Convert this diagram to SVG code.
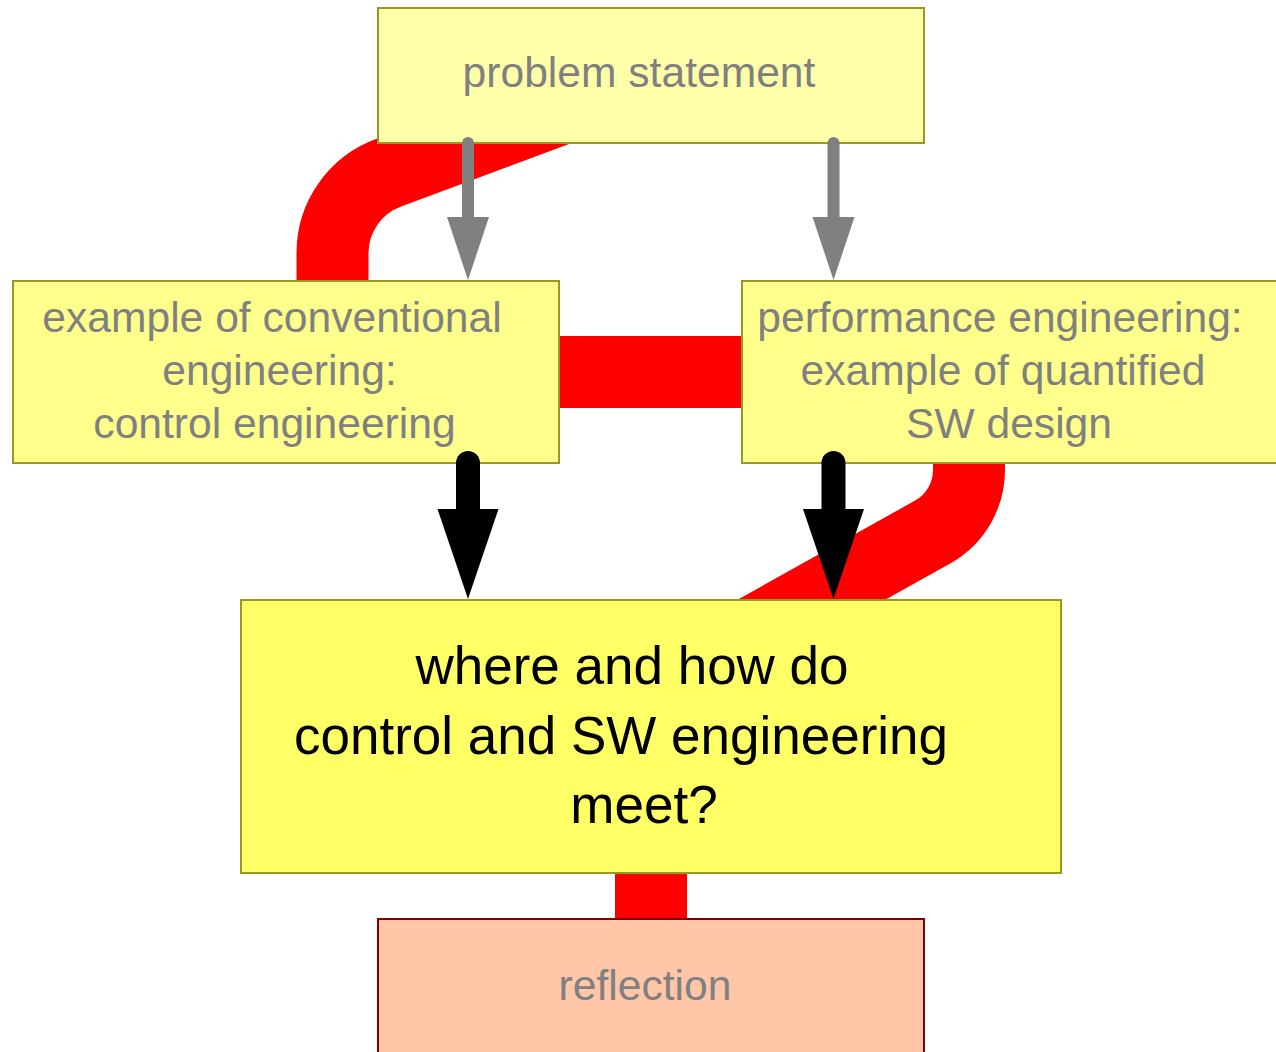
<svg xmlns="http://www.w3.org/2000/svg" width="1276" height="1052" viewBox="0 0 1276 1052">
<style>
.box{stroke:#999922;stroke-width:2}
.lt{fill:#ffffaa}
.md{fill:#ffff8c}
.hi{fill:#ffff66}
.refl{fill:#ffc6a8;stroke:#800000;stroke-width:2}
.red{fill:none;stroke:#ff0000;stroke-width:72}
.t{font-family:"Liberation Sans",Arial,sans-serif;font-size:42.6px;fill:#808080;text-anchor:middle}
.tb{font-family:"Liberation Sans",Arial,sans-serif;font-size:53px;fill:#000;text-anchor:middle}
.gs{stroke:#808080;stroke-width:12;stroke-linecap:round}
.bs{stroke:#000;stroke-width:24;stroke-linecap:round}
</style>
<rect width="1276" height="1052" fill="#fff"/>
<g id="connectors">
<path class="red" d="M 332.5 372 L 332.5 253 A 85.5 85.5 0 0 1 388.8 172.7 L 651 75"/>
<path class="red" d="M 286 372 L 1009 372"/>
<path class="red" d="M 969 400 L 969 470 A 71 71 0 0 1 932.6 532 L 700 662"/>
<path class="red" d="M 651 736 L 651 980"/>
</g>
<g id="problem-statement">
<rect class="box lt" x="378" y="8" width="546" height="135"/>
<text class="t" x="639" y="87">problem statement</text>
</g>
<g id="conventional-engineering">
<rect class="box md" x="13" y="281" width="546" height="182"/>
<text class="t" x="272" y="332">example of conventional</text>
<text class="t" x="279.5" y="385">engineering:</text>
<text class="t" x="274.5" y="438">control engineering</text>
</g>
<g id="performance-engineering">
<rect class="box md" x="742" y="281" width="546" height="182"/>
<text class="t" x="1000" y="332">performance engineering:</text>
<text class="t" x="1003" y="385">example of quantified</text>
<text class="t" x="1009" y="438">SW design</text>
</g>
<g id="meet">
<rect class="box hi" x="241" y="600" width="820" height="273"/>
<text class="tb" x="632" y="684">where and how do</text>
<text class="tb" x="621" y="754">control and SW engineering</text>
<text class="tb" x="644" y="823">meet?</text>
</g>
<g id="reflection">
<rect class="refl" x="378" y="919" width="546" height="140"/>
<text class="t" x="645" y="1000">reflection</text>
</g>
<g id="arrow-connectors">
<line class="gs" x1="468" y1="143" x2="468" y2="220"/>
<polygon fill="#808080" points="447,217 489,217 468,280"/>
<line class="gs" x1="833.5" y1="143" x2="833.5" y2="220"/>
<polygon fill="#808080" points="812.5,217 854.5,217 833.5,280"/>
<line class="bs" x1="468" y1="463" x2="468" y2="512"/>
<polygon fill="#000" points="437.5,509 498.5,509 468,599"/>
<line class="bs" x1="833.5" y1="463" x2="833.5" y2="512"/>
<polygon fill="#000" points="803,509 864,509 833.5,599"/>
</g>
</svg>
